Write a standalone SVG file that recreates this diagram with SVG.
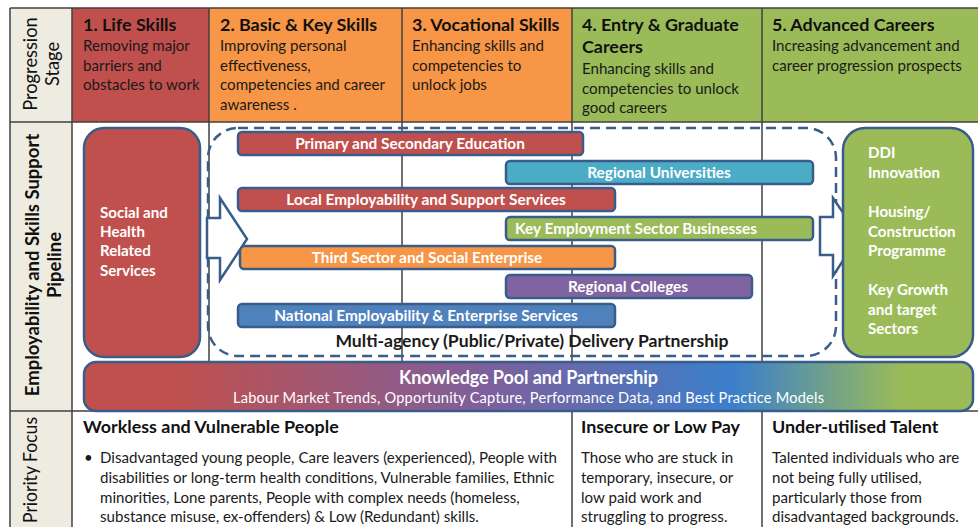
<svg xmlns="http://www.w3.org/2000/svg" width="978" height="527" viewBox="0 0 978 527">
<defs>
<style>
.grid{stroke:#404040;stroke-width:1.5;fill:none}
.t{font-family:Lato,"Open Sans","Liberation Sans",sans-serif;fill:#1a1a1a}
.h{font-size:17.9px;font-weight:bold;fill:#111}
.s{font-size:15.1px}
.lab{font-size:18.3px;fill:#111}
.labb{font-size:18.5px;font-weight:bold;fill:#111}
.bar{stroke:#385D8A;stroke-width:2.5}
.bt{font-family:Lato,"Open Sans","Liberation Sans",sans-serif;font-size:15.4px;font-weight:bold;fill:#fff;text-anchor:middle}
.kt{font-family:Lato,"Open Sans","Liberation Sans",sans-serif;fill:#fff;text-anchor:middle}
.wt{font-family:Lato,"Open Sans","Liberation Sans",sans-serif;font-size:15.1px;font-weight:bold;fill:#fff}
.arrow{fill:#fff;stroke:#385D8A;stroke-width:2.5;stroke-linejoin:miter}
</style>
<linearGradient id="kg" x1="83" y1="0" x2="973" y2="0" gradientUnits="userSpaceOnUse">
<stop offset="0" stop-color="#C0504D"/>
<stop offset="0.1" stop-color="#C0504D"/>
<stop offset="0.45" stop-color="#7E5F9B"/>
<stop offset="0.73" stop-color="#3B7FCB"/>
<stop offset="0.92" stop-color="#9BBB59"/>
<stop offset="1" stop-color="#9BBB59"/>
</linearGradient>
</defs>
<rect width="978" height="527" fill="#fff"/>

<g id="table-background">
<rect x="10" y="8" width="62" height="530" fill="#EEECE1"/>
<rect x="72" y="8" width="137" height="114" fill="#C0504D"/>
<rect x="209" y="8" width="193" height="114" fill="#F79646"/>
<rect x="402" y="8" width="170" height="114" fill="#F79646"/>
<rect x="572" y="8" width="190" height="114" fill="#9BBB59"/>
<rect x="762" y="8" width="216" height="114" fill="#9BBB59"/>
</g>

<g id="grid">
<line class="grid" x1="10" y1="8" x2="978" y2="8"/>
<line class="grid" x1="10" y1="8" x2="10" y2="527"/>
<line class="grid" x1="72" y1="8" x2="72" y2="527"/>
<line class="grid" x1="10" y1="122" x2="978" y2="122"/>
<line class="grid" x1="10" y1="411" x2="978" y2="411"/>
<line class="grid" x1="209" y1="8" x2="209" y2="362"/>
<line class="grid" x1="402" y1="8" x2="402" y2="362"/>
<line class="grid" x1="572" y1="8" x2="572" y2="527"/>
<line class="grid" x1="762" y1="8" x2="762" y2="527"/>
</g>

<g id="row-labels">
<text class="t lab" transform="translate(37,64) rotate(-90)" text-anchor="middle">Progression</text>
<text class="t lab" transform="translate(59,64) rotate(-90)" text-anchor="middle">Stage</text>
<text class="t labb" transform="translate(39,265) rotate(-90)" text-anchor="middle">Employability and Skills Support</text>
<text class="t labb" transform="translate(61,265) rotate(-90)" text-anchor="middle">Pipeline</text>
<text class="t lab" transform="translate(37,470) rotate(-90)" text-anchor="middle" textLength="106" lengthAdjust="spacingAndGlyphs">Priority Focus</text>
</g>

<g id="stage-1">
<text class="t h" x="83" y="31">1. Life Skills</text>
<text class="t s" x="83" y="51">Removing major</text>
<text class="t s" x="83" y="71">barriers and</text>
<text class="t s" x="83" y="90">obstacles to work</text>
</g>
<g id="stage-2">
<text class="t h" x="220" y="31">2. Basic &amp; Key Skills</text>
<text class="t s" x="220" y="51">Improving personal</text>
<text class="t s" x="220" y="71">effectiveness,</text>
<text class="t s" x="220" y="90">competencies and career</text>
<text class="t s" x="220" y="110">awareness .</text>
</g>
<g id="stage-3">
<text class="t h" x="412" y="31">3. Vocational Skills</text>
<text class="t s" x="412" y="51">Enhancing skills and</text>
<text class="t s" x="412" y="71">competencies to</text>
<text class="t s" x="412" y="90">unlock jobs</text>
</g>
<g id="stage-4">
<text class="t h" x="582" y="31">4. Entry &amp; Graduate</text>
<text class="t h" x="582" y="53">Careers</text>
<text class="t s" x="582" y="74">Enhancing skills and</text>
<text class="t s" x="582" y="94">competencies to unlock</text>
<text class="t s" x="582" y="113">good careers</text>
</g>
<g id="stage-5">
<text class="t h" x="772" y="31">5. Advanced Careers</text>
<text class="t s" x="772" y="51">Increasing advancement and</text>
<text class="t s" x="772" y="71">career progression prospects</text>
</g>

<g id="social-health">
<rect x="84" y="128" width="116" height="229" rx="20" fill="#C0504D" class="bar"/>
<text class="wt" x="100" y="218">Social  and</text>
<text class="wt" x="100" y="237">Health</text>
<text class="wt" x="100" y="256">Related</text>
<text class="wt" x="100" y="276">Services</text>
</g>

<g id="delivery-partnership">
<rect x="208" y="128" width="628" height="228" rx="30" fill="none" stroke="#385D8A" stroke-width="2.5" stroke-dasharray="10 6"/>
<text class="t" x="532" y="347" text-anchor="middle" font-size="17.6" font-weight="bold" fill="#111">Multi-agency (Public/Private) Delivery Partnership</text>
</g>

<g id="bar-primary">
<rect x="238" y="132" width="345" height="23" rx="4" fill="#C0504D" class="bar"/>
<text class="bt" x="410" y="148.5">Primary and  Secondary Education</text>
</g>
<g id="bar-universities">
<rect x="506" y="161" width="307" height="23" rx="4" fill="#4BACC6" class="bar"/>
<text class="bt" x="659" y="177.5">Regional Universities</text>
</g>
<g id="bar-local">
<rect x="238" y="188" width="377" height="23" rx="4" fill="#C0504D" class="bar"/>
<text class="bt" x="426" y="204.5">Local Employability and Support Services</text>
</g>
<g id="bar-key-employment">
<rect x="506" y="217" width="307" height="23" rx="4" fill="#9BBB59" class="bar"/>
<text class="bt" x="636" y="233.5">Key Employment Sector Businesses</text>
</g>
<g id="bar-third-sector">
<rect x="240" y="246" width="375" height="23" rx="4" fill="#F79646" class="bar"/>
<text class="bt" x="427" y="262.5">Third Sector and Social Enterprise</text>
</g>
<g id="bar-colleges">
<rect x="506" y="275" width="246" height="23" rx="4" fill="#8064A2" class="bar"/>
<text class="bt" x="628" y="292">Regional Colleges</text>
</g>
<g id="bar-national">
<rect x="238" y="304" width="377" height="23" rx="4" fill="#4F81BD" class="bar"/>
<text class="bt" x="426" y="321">National Employability &amp; Enterprise Services</text>
</g>

<g id="connectors">
<polygon class="arrow" points="207,218 220,218 220,198 247,239 220,280 220,258 207,258"/>
<polygon class="arrow" points="820,217 833,217 833,198 859,236 833,276 833,255 820,255"/>
</g>

<g id="target-sectors">
<rect x="843" y="128" width="130" height="229" rx="22" fill="#9BBB59" class="bar"/>
<text class="wt" x="868" y="158">DDI</text>
<text class="wt" x="868" y="178">Innovation</text>
<text class="wt" x="868" y="217">Housing/</text>
<text class="wt" x="868" y="237">Construction</text>
<text class="wt" x="868" y="256">Programme</text>
<text class="wt" x="868" y="295">Key Growth</text>
<text class="wt" x="868" y="315">and target</text>
<text class="wt" x="868" y="334">Sectors</text>
</g>

<g id="knowledge-pool">
<rect x="84" y="362" width="889" height="49" rx="12" fill="url(#kg)" class="bar"/>
<text class="kt" x="528.5" y="384" font-size="18" font-weight="bold" textLength="259" lengthAdjust="spacing">Knowledge Pool and Partnership</text>
<text class="kt" x="528.5" y="403" font-size="14.6" textLength="591" lengthAdjust="spacing">Labour Market Trends, Opportunity Capture, Performance  Data, and Best Practice Models</text>
</g>

<g id="focus-workless">
<text class="t h" x="83" y="433">Workless and Vulnerable People</text>
<text class="t s" x="84" y="463">•</text>
<text class="t s" x="100" y="463">Disadvantaged young people, Care leavers (experienced), People with</text>
<text class="t s" x="100" y="483">disabilities or long-term health conditions, Vulnerable families, Ethnic</text>
<text class="t s" x="100" y="503">minorities, Lone parents, People with complex needs (homeless,</text>
<text class="t s" x="100" y="522">substance misuse, ex-offenders) &amp; Low (Redundant) skills.</text>
</g>
<g id="focus-insecure">
<text class="t h" x="581" y="433">Insecure or Low Pay</text>
<text class="t s" x="581" y="463">Those who are stuck in</text>
<text class="t s" x="581" y="483">temporary,  insecure, or</text>
<text class="t s" x="581" y="503">low paid work and</text>
<text class="t s" x="581" y="522">struggling to progress.</text>
</g>
<g id="focus-talent">
<text class="t h" x="772" y="433">Under-utilised Talent</text>
<text class="t s" x="772" y="463">Talented individuals who are</text>
<text class="t s" x="772" y="483">not being fully utilised,</text>
<text class="t s" x="772" y="503">particularly those from</text>
<text class="t s" x="772" y="522">disadvantaged backgrounds.</text>
</g>
</svg>
